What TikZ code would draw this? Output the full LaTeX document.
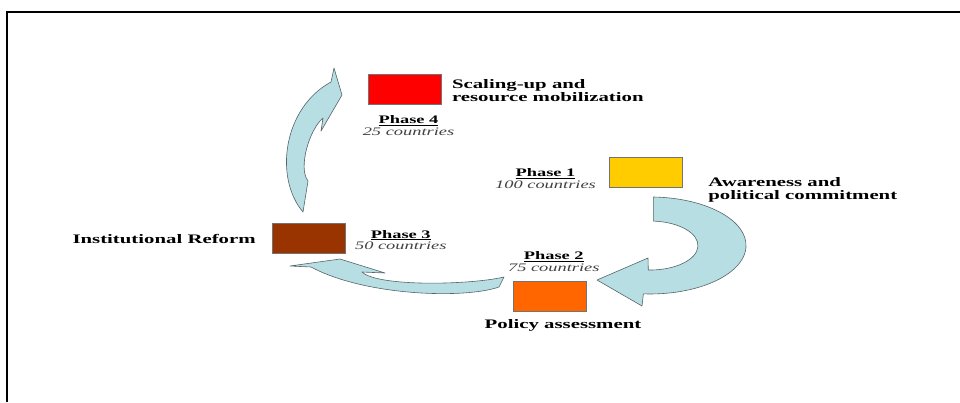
\documentclass[tikz,border=0pt]{standalone}
\usepackage{fontspec}
\setmainfont{Liberation Serif}
\definecolor{arrowfill}{RGB}{183,222,227}
\definecolor{arrowline}{RGB}{85,100,105}
\definecolor{phaseone}{RGB}{255,204,0}
\definecolor{phasetwo}{RGB}{255,102,0}
\definecolor{phasethree}{RGB}{153,51,0}
\definecolor{phasefour}{RGB}{255,0,0}
\begin{document}
\begin{tikzpicture}[x=1pt,y=-1pt,
  phasebox/.style={draw=black!55,line width=0.6pt,minimum width=73pt,minimum height=30pt,inner sep=0pt},
  stagetext/.style={font=\bfseries\fontsize{13}{13.5}\selectfont,xscale=1.6,align=left,inner sep=0pt},
  phase/.style={font=\fontsize{11.5}{11.7}\selectfont,xscale=1.6,align=center,inner sep=0pt,anchor=north},
  curvedarrow/.style={fill=arrowfill,draw=arrowline,line width=0.6pt,line join=round}]
\useasboundingbox (0,0) rectangle (960,402);
\draw[line width=2pt] (7,402) -- (7,12) -- (960,12);

\filldraw[curvedarrow] (653.4,197.0) arc[start angle=-88,end angle=94,x radius=96,y radius=48.5]
  -- (642,306) -- (597,280) -- (648,258) -- (648.3,270.0)
  arc[start angle=92,end angle=-86,x radius=48,y radius=24.5] -- cycle;
\filldraw[curvedarrow] (290,266) -- (340,259) -- (385,273) -- (362,272)
  .. controls (378,287) and (470,285) .. (504,277) -- (499,287)
  .. controls (465,299) and (365,296) .. (311,267) -- cycle;
\filldraw[curvedarrow] (334,68) -- (342,95) -- (321,131) -- (323,118)
  .. controls (309,130) and (298,168) .. (308,181) -- (303,212)
  .. controls (274,178) and (283,108) .. (331,82) -- cycle;

\node[phasebox,fill=phasefour] (box4) at (405,89) {};
\node[phasebox,fill=phaseone] (box1) at (646,172.5) {};
\node[phasebox,fill=phasethree] (box3) at (308.5,238.5) {};
\node[phasebox,fill=phasetwo] (box2) at (549.5,296) {};

\node[phase] (ph4) at (408.5,115.3) {\textbf{\underline{Phase 4}}\\\textcolor{black!75}{\itshape 25 countries}};
\node[phase] (ph1) at (545.5,168.6) {\textbf{\underline{Phase 1}}\\\textcolor{black!75}{\itshape 100 countries}};
\node[phase] (ph2) at (553.8,251.6) {\textbf{\underline{Phase 2}}\\\textcolor{black!75}{\itshape 75 countries}};
\node[phase] (ph3) at (400.8,229.9) {\textbf{\underline{Phase 3}}\\\textcolor{black!75}{\itshape 50 countries}};

\node[stagetext,anchor=north west] (scaling) at (451.7,78.9) {Scaling-up and\\resource mobilization};
\node[stagetext,anchor=north west] (awareness) at (708,177) {Awareness and\\political commitment};
\node[stagetext,anchor=base east] (reform) at (256,243.3) {Institutional Reform};
\node[stagetext,anchor=base] (policy) at (563,328) {Policy assessment};
\end{tikzpicture}
\end{document}
